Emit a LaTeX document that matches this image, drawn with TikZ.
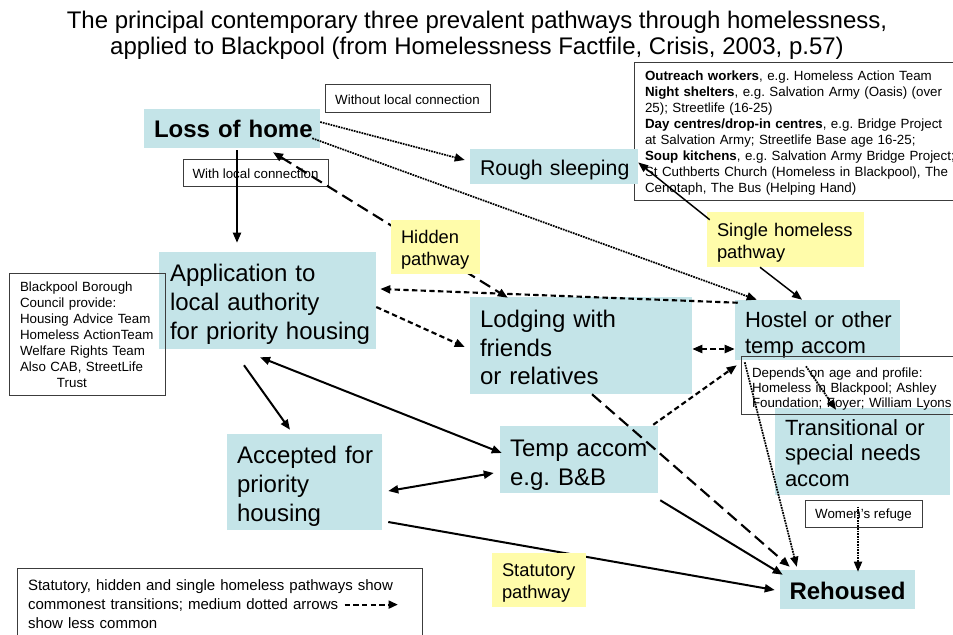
\documentclass[tikz,border=0pt]{standalone}
\usepackage{fontspec}
\setmainfont{Liberation Sans}
\usetikzlibrary{arrows.meta}
\definecolor{tealbox}{RGB}{196,228,232}
\definecolor{yelbox}{RGB}{255,252,170}
\definecolor{edgegray}{RGB}{60,60,60}
\newcommand\keepln[1]{\mbox{#1}}
\newcommand\dropby[1]{\rule{0pt}{\dimexpr 0.73em+#1+#1\relax}}
\pgfdeclarelayer{front}
\pgfsetlayers{main,front}
\begin{document}
\frenchspacing
\begin{tikzpicture}[x=0.75pt,y=-0.75pt,
  >={Triangle[length=7.5pt,width=6pt]},
  box/.style={inner ysep=0pt, anchor=center, align=left},
  tbox/.style={box, fill=tealbox},
  ybox/.style={box, fill=yelbox},
  wbox/.style={box, draw=edgegray, line width=0.75pt},
  fbig/.style={font=\fontsize{18}{21.75}\selectfont},
  fbold/.style={font=\bfseries\fontsize{18}{21.75}\selectfont},
  fmid/.style={font=\fontsize{16.5}{19.5}\selectfont},
  fyel/.style={font=\fontsize{13.75}{16.5}\selectfont},
  fsmall/.style={font=\fontsize{10}{12}\selectfont},
  solidarr/.style={line width=1.5pt},
  thinarr/.style={line width=1.1pt, ->},
  meddash/.style={line width=1.6pt, dash pattern=on 4pt off 2.5pt},
  longdash/.style={line width=1.6pt, dash pattern=on 9pt off 4.5pt},
  dotarr/.style={line width=1.3pt, dash pattern=on 1.3pt off 0.7pt, ->},
]
\fill[white] (0,0) rectangle (953,635);
\useasboundingbox (0,0) rectangle (953,635);

% title
\node[align=center, font=\fontsize{18}{19.5}\selectfont] (title) at (477,35)
  {The principal contemporary three prevalent pathways through homelessness,\\
   applied to Blackpool (from Homelessness Factfile, Crisis, 2003, p.57)};

% white information box
\node[wbox, fsmall, minimum width=247.5pt, minimum height=102.75pt, inner xsep=8.25pt, text width=231pt] (info) at (799,131.5)
  {\dropby{1.5pt}\keepln{\textbf{Outreach workers}, e.g. Homeless Action Team}\\
   \keepln{\textbf{Night shelters}, e.g. Salvation Army (Oasis) (over}\\
   \keepln{25); Streetlife (16-25)}\\
   \keepln{\textbf{Day centres/drop-in centres}, e.g. Bridge Project}\\
   \keepln{at Salvation Army; Streetlife Base age 16-25;}\\
   \keepln{\textbf{Soup kitchens}, e.g. Salvation Army Bridge Project;}\\
   \keepln{St Cuthberts Church (Homeless in Blackpool), The}\\
   \keepln{Cenotaph, The Bus (Helping Hand)}};

% teal boxes
\node[tbox, fbold, align=center, minimum width=132pt, minimum height=29.25pt, inner xsep=7.5pt, text width=117pt] (loss) at (232,128.5) {\keepln{Loss of home}};
\node[tbox, font=\fontsize{16}{19}\selectfont, minimum width=126pt, minimum height=26.25pt, inner xsep=7.5pt, text width=111pt] (rough) at (554,166.5) {\dropby{2.25pt}\keepln{Rough sleeping}};
\node[tbox, fbig, minimum width=162.75pt, minimum height=72.75pt, inner xsep=8.25pt, text width=146.25pt] (app) at (267.5,300.5)
  {\dropby{3pt}\keepln{Application to}\\\keepln{local authority}\\\keepln{for priority housing}};
\node[tbox, font=\fontsize{18}{21.4}\selectfont, minimum width=166.5pt, minimum height=72.75pt, inner xsep=7.5pt, text width=151.5pt] (lodg) at (581,345.5)
  {\dropby{1.5pt}Lodging with\\friends\\or relatives};
\node[tbox, fmid, minimum width=123.75pt, minimum height=45pt, inner xsep=7.5pt, text width=108.75pt] (host) at (817.5,330)
  {\dropby{3.75pt}\keepln{Hostel or other}\\\keepln{temp accom}};
\node[tbox, font=\fontsize{16.5}{19}\selectfont, minimum width=131.25pt, minimum height=65.25pt, inner xsep=7.5pt, text width=116.25pt] (trans) at (862.5,451.5)
  {\dropby{1pt}Transitional or\\special needs\\accom};
\node[tbox, fbig, minimum width=116.25pt, minimum height=72pt, inner xsep=7.5pt, text width=101.25pt] (acc) at (304.5,482)
  {\dropby{3pt}\keepln{Accepted for}\\\keepln{priority}\\\keepln{housing}};
\node[tbox, fbig, minimum width=118.5pt, minimum height=50.25pt, inner xsep=7.5pt, text width=103.5pt] (temp) at (579,459.5)
  {\dropby{3.75pt}\keepln{Temp accom}\\\keepln{e.g. B\&B}};
\node[tbox, fbold, align=center, minimum width=101.25pt, minimum height=29.25pt, inner xsep=5pt, text width=91.25pt] (reh) at (847.5,589.5) {\dropby{0.75pt}\keepln{Rehoused}};

% yellow labels
\node[ybox, fyel, minimum width=117.75pt, minimum height=41.25pt, inner xsep=7.5pt, text width=102.75pt] (single) at (785.5,239.5)
  {\dropby{2.25pt}\keepln{Single homeless}\\pathway};
\begin{pgfonlayer}{front}
\node[ybox, fyel, minimum width=66.75pt, minimum height=40.5pt, inner xsep=7.5pt, text width=51.75pt] (hidden) at (435.5,247)
  {\dropby{2.25pt}\keepln{Hidden}\\\keepln{pathway}};
\node[ybox, fyel, minimum width=70.5pt, minimum height=40.5pt, inner xsep=7.5pt, text width=55.5pt] (stat) at (539,580)
  {\dropby{2.25pt}\keepln{Statutory}\\\keepln{pathway}};
\end{pgfonlayer}

% other white boxes
\node[wbox, fsmall, align=center, minimum width=123.75pt, minimum height=20.25pt] (without) at (407.5,98.5) {\dropby{0.75pt}Without local connection};
\node[wbox, fsmall, align=center, minimum width=108.75pt, minimum height=20.25pt] (with) at (255.5,172.5) {\dropby{0.75pt}With local connection};
\node[wbox, fsmall, minimum width=117pt, minimum height=91.5pt, inner xsep=8.25pt, text width=100.5pt] (council) at (87,334)
  {\dropby{0.75pt}\keepln{Blackpool Borough}\\\keepln{Council provide:}\\\keepln{Housing Advice Team}\\\keepln{Homeless ActionTeam}\\\keepln{Welfare Rights Team}\\\keepln{Also CAB, StreetLife}\\\hspace*{27.75pt}Trust};
\node[wbox, font=\fontsize{10}{11.6}\selectfont, minimum width=168.75pt, minimum height=43.5pt, inner xsep=8.25pt, text width=152.25pt] (depends) at (853.5,385)
  {\dropby{3pt}\keepln{Depends on age and profile:}\\\keepln{Homeless in Blackpool; Ashley}\\\keepln{Foundation; Foyer; William Lyons}};
\node[wbox, fsmall, align=center, minimum width=87.75pt, minimum height=20.25pt] (women) at (863.5,513.5) {\dropby{1.5pt}Women's refuge};
\node[wbox, font=\fontsize{11.25}{14.25}\selectfont, minimum width=303.75pt, minimum height=54pt, inner xsep=8.25pt, text width=287.25pt] (legend) at (219.5,604)
  {\keepln{Statutory, hidden and single homeless pathways show}\\
   \keepln{commonest transitions; medium dotted arrows\hspace{4pt}\tikz[baseline=-0.6ex]\draw[line width=1.6pt, dash pattern=on 4pt off 2.5pt, -{Triangle[length=7pt,width=6pt]}] (0pt,0pt) -- (40pt,0pt);}\\
   show less common};

% connectors
\draw[solidarr, ->] ([shift={(5,2)}]loss.south) -- ([shift={(-30.5,-9)}]app.north);
\draw[dotarr] ([shift={(0,-6.5)}]loss.east) -- ([shift={(-5,-6.5)}]rough.west);
\draw[dotarr] ([shift={(-8,-10)}]loss.south east) -- ([shift={(22,0)}]host.north west);
\draw[longdash, <->] ([shift={(41,4)}]loss.south) -- ([shift={(38,1)}]lodg.north west);
\draw[meddash, ->] ([shift={(3,3)}]host.north west) -- ([shift={(4,-11.5)}]app.east);
\draw[meddash, ->] ([shift={(0,6.5)}]app.east) -- ([shift={(-5,1.5)}]lodg.west);
\draw[meddash, <->] ([shift={(0,3.5)}]lodg.east) -- ([shift={(0,19)}]host.west);
\draw[solidarr, ->] ([shift={(-23.5,16)}]app.south) -- ([shift={(-14.5,-4)}]acc.north);
\draw[solidarr, <->] ([shift={(-7.5,8)}]app.south) -- ([shift={(2,-6.5)}]temp.west);
\draw[solidarr, <->] ([shift={(6,9)}]acc.east) -- ([shift={(-6,13.5)}]temp.west);
\draw[solidarr, ->] ([shift={(6,40)}]acc.east) -- ([shift={(-5,0.5)}]reh.west);
\draw[solidarr, ->] ([shift={(2,7)}]temp.south east) -- ([shift={(3,5)}]reh.north west);
\draw[longdash, ->] ([shift={(11,0)}]lodg.south) -- ([shift={(10,-3)}]reh.north west);
\draw[meddash, ->] ([shift={(-5,-1)}]temp.north east) -- ([shift={(2,5)}]host.south west);
\draw[dotarr] ([shift={(10,2)}]host.south west) -- ([shift={(17,-3)}]reh.north west);
\draw[dotarr] ([shift={(-11.5,6)}]host.south) -- ([shift={(-26.5,2)}]trans.north);
\draw[dotarr] ([shift={(-5.5,7)}]women.north) -- ([shift={(10.5,2)}]reh.north);
\draw[thinarr] ([shift={(3,8)}]single.north west) -- ([shift={(0,-4)}]rough.east);
\draw[thinarr] ([shift={(-25.5,0)}]single.south) -- ([shift={(-15.5,0)}]host.north);
\end{tikzpicture}
\end{document}
